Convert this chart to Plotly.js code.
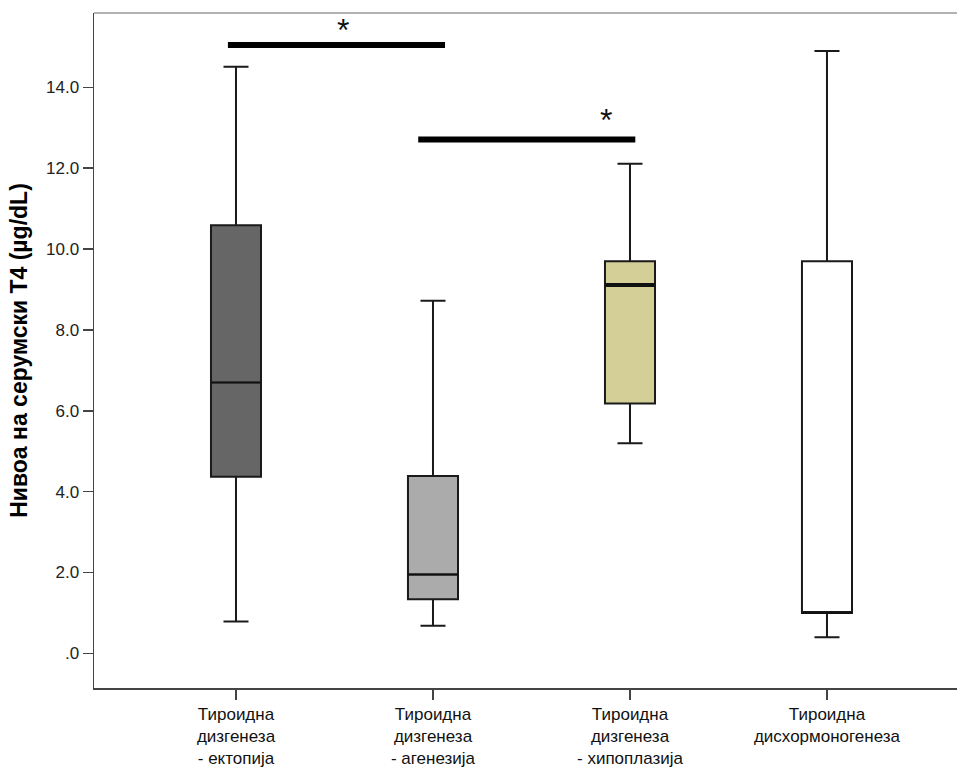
<!DOCTYPE html>
<html>
<head>
<meta charset="utf-8">
<script src="https://cdn.plot.ly/plotly-3.0.1.min.js"></script>
<style>html,body{margin:0;padding:0;background:#fff;}#chart{width:957px;height:769px;}</style>
</head>
<body>
<div id="chart"></div>
<script>
// ---- data ----
const categories = [
  "Тироидна<br>дизгенеза<br>- ектопија",
  "Тироидна<br>дизгенеза<br>- агенезија",
  "Тироидна<br>дизгенеза<br>- хипоплазија",
  "Тироидна<br>дисхормоногенеза"
];
const lowerWhisker = [0.79, 0.68, 5.20, 0.40];
const q1Values     = [4.37, 1.34, 6.18, 1.00];
const medianValues = [6.70, 1.95, 9.11, 1.00];
const q3Values     = [10.59, 4.39, 9.70, 9.70];
const upperWhisker = [14.51, 8.72, 12.11, 14.90];
const yTickVals  = [0, 2, 4, 6, 8, 10, 12, 14];
const yTickText  = [".0", "2.0", "4.0", "6.0", "8.0", "10.0", "12.0", "14.0"];
// significance comparisons: [from category index, to category index, bar level]
const sigFrom  = [0, 1];
const sigTo    = [1, 2];
const sigLevel = [15.05, 12.71];
const sigLabel = ["*", "*"];

// ---- styles ----
const fills = ["#666666", "#ababab", "#d3cf97", "#ffffff"];
const medianWidths = [1.5, 2, 4, 1.5];
const boxWidth = 0.254;

const traces = [];
categories.forEach((c, i) => {
  traces.push({
    type: "box",
    x: [i],
    q1: [q1Values[i]],
    median: [medianValues[i]],
    q3: [q3Values[i]],
    lowerfence: [lowerWhisker[i]],
    upperfence: [upperWhisker[i]],
    fillcolor: fills[i],
    line: {color: "#1a1a1a", width: 2},
    width: boxWidth,
    whiskerwidth: 0.5,
    boxpoints: false,
    hoverinfo: "skip",
    showlegend: false
  });
});
// median overlays (SPSS draws medians with their own weight)
categories.forEach((c, i) => {
  traces.push({
    type: "scatter", mode: "lines",
    x: [i - boxWidth / 2, i + boxWidth / 2],
    y: [medianValues[i], medianValues[i]],
    line: {color: "#111", width: medianWidths[i]},
    hoverinfo: "skip", showlegend: false
  });
});

// bar offsets relative to category centers
const sigStartOff = [-0.041, -0.075];
const sigEndOff = [0.061, 0.027];
const starOffX = [-0.455, -0.122];
const starOffY = [0.36, 0.48];

const shapes = [
  {type: "line", xref: "paper", yref: "paper", x0: 0, x1: 1, y0: 1, y1: 1,
   line: {color: "#999", width: 1.5}}
];
const annotations = [];
sigFrom.forEach((f, k) => {
  shapes.push({
    type: "line", xref: "x", yref: "y",
    x0: f + sigStartOff[k], x1: sigTo[k] + sigEndOff[k],
    y0: sigLevel[k], y1: sigLevel[k],
    line: {color: "#000", width: 6}
  });
  annotations.push({
    xref: "x", yref: "y",
    x: sigTo[k] + starOffX[k], y: sigLevel[k] + starOffY[k],
    text: sigLabel[k], showarrow: false,
    font: {family: "Liberation Sans, Arial, sans-serif", size: 32, color: "#111"},
    yanchor: "middle"
  });
});

const layout = {
  width: 957, height: 769,
  margin: {l: 94, r: 0, t: 13, b: 81},
  paper_bgcolor: "#fff", plot_bgcolor: "#fff",
  showlegend: false,
  xaxis: {
    range: [-0.7208, 3.660],
    tickvals: [0, 1, 2, 3],
    ticktext: categories,
    ticks: "outside", ticklen: 10, tickwidth: 1.5, tickcolor: "#444",
    showline: true, linecolor: "#444", linewidth: 1.5,
    showgrid: false, zeroline: false,
    tickfont: {family: "Liberation Sans, Arial, sans-serif", size: 17, color: "#111"}
  },
  yaxis: {
    range: [-0.857, 15.84],
    tickvals: yTickVals,
    ticktext: yTickText,
    ticks: "outside", ticklen: 10, tickwidth: 1.5, tickcolor: "#444",
    showline: true, linecolor: "#444", linewidth: 1.5,
    showgrid: false, zeroline: false,
    tickfont: {family: "Liberation Sans, Arial, sans-serif", size: 17, color: "#222"},
    title: {
      text: "Нивоа на серумски Т4 (µg/dL)",
      font: {family: "Liberation Sans, Arial, sans-serif", size: 23, color: "#000", weight: "bold"},
      standoff: 12
    }
  },
  shapes: shapes,
  annotations: annotations
};

Plotly.newPlot("chart", traces, layout, {displayModeBar: false, staticPlot: true});
</script>
</body>
</html>
